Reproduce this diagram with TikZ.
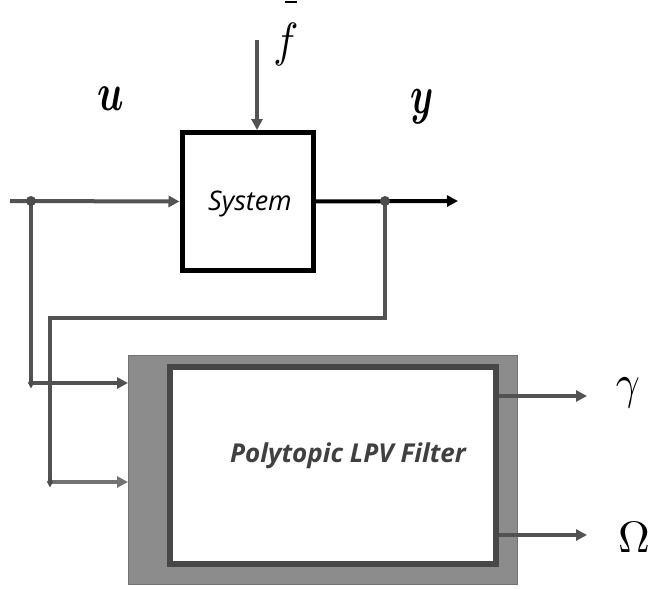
\documentclass[tikz,border=0pt]{standalone}
\usepackage{amsmath}
\usepackage{graphicx}
\usepackage{fontspec}
\newfontfamily\uifont{Open Sans}
\usetikzlibrary{arrows.meta,shapes.geometric}
\begin{document}
\begin{tikzpicture}[x=1pt,y=-1pt,
  wire/.style={draw=black!68, line width=4pt},
  arr/.style={-{Triangle[length=11pt,width=11pt]}},
  jdot/.style={circle, fill=black!70, inner sep=0pt, minimum size=10pt},
  jdia/.style={diamond, fill=black!70, inner sep=0pt, minimum width=6pt, minimum height=11pt},
  lab/.style={inner sep=0pt}]
\useasboundingbox (0,0) rectangle (651,589);
% system
\node[draw=black, line width=5pt, fill=white, minimum width=131pt, minimum height=138pt, inner sep=0pt] (sys) at (247.5,201.5) {};
\node[lab] (systxt) at (250,204) {\uifont\fontsize{27}{27}\selectfont\itshape System};
% filter
\node[draw=black!55, line width=1pt, fill=black!45, minimum width=389pt, minimum height=229pt, inner sep=0pt] (outer) at (323,469.5) {};
\node[draw=black!72, line width=6pt, fill=white, minimum width=326pt, minimum height=197pt, inner sep=0pt] (inner) at (333,465) {};
\node[lab, text=black!75] (ftxt) at (348,456) {\uifont\fontsize{26}{26}\selectfont\bfseries\itshape Polytopic LPV Filter};
% labels
\node[lab] (u) at (111,99) {\scalebox{3.9}[5.3]{$\boldsymbol{u}$}};
\node[lab] (y) at (422,107) {\scalebox{3.7}[5.4]{$\boldsymbol{y}$}};
\node[lab] (f) at (286,44) {\scalebox{4.2}[4.8]{$f$}};
\node[lab] (fbar) at (291,2) {\rule{12pt}{1.2pt}};
\node[lab] (gam) at (628,393) {\scalebox{4.2}[4.8]{$\gamma$}};
\node[lab] (om) at (634,537) {\scalebox{4.4}{$\Omega$}};
% coordinates
\coordinate (in0) at (10,201);
\coordinate (j1) at (31,201);
\coordinate (j2) at (385,201);
\coordinate (yout) at (458,201);
\coordinate (ftop) at (257,40);
\coordinate (c1) at (385,318);
\coordinate (c2) at (50,318);
\coordinate (d1) at (31,383);
\coordinate (d2) at (50,482);
\coordinate (fi1) at (128,383);
\coordinate (fi2) at (128,482);
\coordinate (go) at (587,396);
\coordinate (oo) at (587,535);
% wires
\draw[wire, arr] (in0) -- (sys.west);
\draw[wire, arr] (ftop) -- (ftop |- sys.north);
\draw[line width=4pt, draw=black, arr] (sys.east) -- (yout);
\draw[wire] (j1) -- (d1);
\draw[wire, arr] (d1) -- (fi1);
\draw[wire] (j2) -- (c1) -- (c2) -- (d2);
\draw[wire, draw=black!55, arr] (d2) -- (fi2);
\draw[wire, arr] (inner.east |- go) -- (go);
\draw[wire, arr] (inner.east |- oo) -- (oo);
\node[jdot] (dj1) at (j1) {};
\node[jdot] (dj2) at (j2) {};
\node[jdia] (dd1) at (d1) {};
\node[jdia] (dd2) at (d2) {};
\end{tikzpicture}
\end{document}
